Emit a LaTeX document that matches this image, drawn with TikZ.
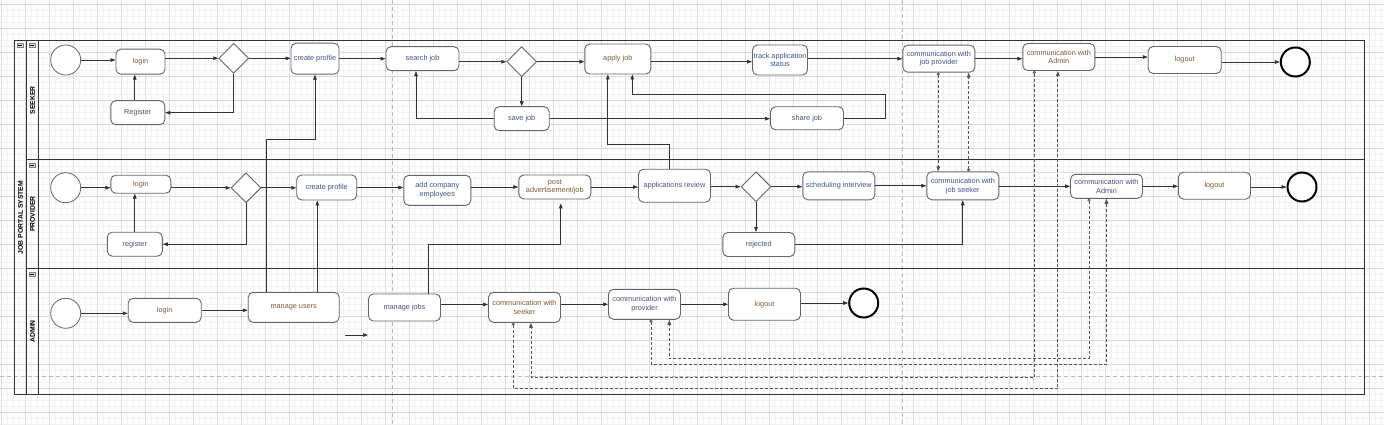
\documentclass[tikz,border=0pt]{standalone}
\usepackage{fontspec}
\setmainfont{Liberation Sans}
\usepackage{tikz}
\usetikzlibrary{shapes.geometric, arrows.meta, positioning}
\definecolor{lanecol}{HTML}{333333}
\definecolor{boxcol}{HTML}{666666}
\definecolor{msgcol}{HTML}{555555}
\definecolor{txtbrown}{HTML}{7A5A3A}
\definecolor{txtblue}{HTML}{3E5288}
\definecolor{txtpurple}{HTML}{584A80}
\definecolor{txtgray}{HTML}{50505C}
\tikzset{
	activity/.style={rectangle, rounded corners=5pt, draw=boxcol, fill=white, line width=0.9pt, align=center, inner sep=1pt, font=\fontsize{7.3}{8.7}\selectfont},
	decision/.style={diamond, aspect=1, minimum size=30pt, inner sep=0pt, draw=boxcol, fill=white, line width=0.9pt},
	initial/.style={circle, minimum size=30pt, inner sep=0pt, draw=boxcol, fill=white, line width=0.8pt},
	final/.style={circle, minimum size=29pt, inner sep=0pt, draw=black, fill=white, line width=2pt},
	arrow/.style={line width=0.7pt, draw=lanecol, -{Triangle[length=5pt,width=3.6pt]}},
	message/.style={line width=0.8pt, draw=msgcol, dash pattern=on 3pt off 2pt, {Circle[open,length=3pt,width=3pt,fill=white]}-{Triangle[length=5pt,width=3.6pt]}},
	lanelabel/.style={rotate=90, inner sep=0pt, font=\fontsize{6.8}{7}\selectfont\bfseries},
	lanerule/.style={line width=1pt, draw=lanecol},
	pagebreak/.style={draw=gray!55, line width=0.8pt, dash pattern=on 4pt off 3pt}
}

\begin{document}
\begin{tikzpicture}[x=1pt,y=-1pt]
	\useasboundingbox (0,0) rectangle (1384,425);
	
	% Canvas
	\draw [black!5, line width=0.4pt, step=6pt, shift={(1,4)}] (-1pt,-421pt) grid (1383pt,4pt);
	\draw [black!14, line width=0.5pt, step=24pt, shift={(1,4)}] (-1pt,-421pt) grid (1383pt,4pt);
	\draw [pagebreak] (392.7,0) -- (392.7,425);
	\draw [pagebreak] (902.7,0) -- (902.7,425);
	\draw [pagebreak] (0,376.7) -- (1384,376.7);
	
	% Pool and lanes
	\draw [lanerule] (14.3,40.7) rectangle (1364,394.3);
	\draw [lanerule] (26.7,40.7) -- (26.7,394.3);
	\draw [lanerule] (38.3,40.7) -- (38.3,394.3);
	\draw [lanerule] (26.7,160) -- (1364,160);
	\draw [lanerule] (26.7,268.3) -- (1364,268.3);
	\foreach \ix/\iy in {20/45.2, 32/45.2, 32/165, 32/274} {
		\draw [gray, fill=gray!25, line width=0.4pt] (\ix-2.7,\iy-2.2) rectangle (\ix+2.7,\iy+2.2);
		\draw [black, line width=0.5pt] (\ix-1.6,\iy) -- (\ix+1.6,\iy);
	}
	\node (poolTitle) [lanelabel] at (20.5,217.5) {JOB PORTAL SYSTEM};
	\node (laneSeeker) [lanelabel] at (32.5,100.3) {SEEKER};
	\node (laneProvider) [lanelabel] at (32.5,214.2) {PROVIDER};
	\node (laneAdmin) [lanelabel] at (32.5,331.3) {ADMIN};
	
	% Nodes - seeker
	\node (sStart) [initial] at (65.7,60) {};
	\node (sLogin) [activity, minimum width=49pt, minimum height=25pt, text=txtbrown] at (140.5,61.7) {login};
	\node (sDec) [decision] at (233.7,58.3) {};
	\node (sReg) [activity, minimum width=54pt, minimum height=24pt, text=txtgray] at (137.8,112.7) {Register};
	\node (sProf) [activity, minimum width=48pt, minimum height=31pt, text=txtblue] at (315,58.7) {create profile};
	\node (sSearch) [activity, minimum width=73pt, minimum height=24pt, text=txtblue] at (422.5,58.7) {search job};
	\node (sDec2) [decision] at (521.7,61.7) {};
	\node (sApply) [activity, minimum width=66pt, minimum height=30pt, text=txtbrown] at (617.8,59) {apply job};
	\node (sSave) [activity, minimum width=55pt, minimum height=24pt, text=txtblue] at (521.7,118.7) {save job};
	\node (sTrack) [activity, minimum width=55pt, minimum height=30pt, text=txtblue] at (780,60) {track application\\status};
	\node (sShare) [activity, minimum width=73pt, minimum height=23pt, text=txtblue] at (807,118.3) {share job};
	\node (sComm) [activity, minimum width=72pt, minimum height=27pt, text=txtblue] at (938.8,58.7) {communication with\\job provider};
	\node (sAdmin) [activity, minimum width=72pt, minimum height=27pt, text=txtbrown] at (1058.8,57) {communication with\\Admin};
	\node (sLogout) [activity, minimum width=73pt, minimum height=27pt, text=txtbrown] at (1184.7,60) {logout};
	\node (sEnd) [final] at (1295.3,62) {};
	
	% Nodes - provider
	\node (pStart) [initial] at (65.7,187.7) {};
	\node (pLogin) [activity, minimum width=60pt, minimum height=18pt, text=txtbrown] at (140.8,184.2) {login};
	\node (pDec) [decision] at (246,187.8) {};
	\node (pReg) [activity, minimum width=55pt, minimum height=24pt, text=txtpurple] at (134.8,244.2) {register};
	\node (pProf) [activity, minimum width=60pt, minimum height=25pt, text=txtblue] at (326.7,187.5) {create profile};
	\node (pAdd) [activity, minimum width=67pt, minimum height=30pt, text=txtblue] at (437.3,190.3) {add company\\employees};
	\node (pPost) [activity, minimum width=72pt, minimum height=24pt, text=txtbrown] at (554.8,187) {post\\advertisement/job};
	\node (pRev) [activity, minimum width=72pt, minimum height=33pt, text=txtpurple] at (674.5,185.7) {applications review};
	\node (pDec2) [decision] at (756,186.7) {};
	\node (pSched) [activity, minimum width=72pt, minimum height=28pt, text=txtblue] at (838.8,185.8) {scheduling interview};
	\node (pRej) [activity, minimum width=72pt, minimum height=24pt, text=txtblue] at (758.8,244.5) {rejected};
	\node (pComm) [activity, minimum width=72pt, minimum height=28pt, text=txtblue] at (962.8,185.8) {communication with\\job seeker};
	\node (pAdmin) [activity, minimum width=72pt, minimum height=24pt, text=txtpurple] at (1106.5,186.3) {communication with\\Admin};
	\node (pLogout) [activity, minimum width=72pt, minimum height=27pt, text=txtbrown] at (1214.5,185.7) {logout};
	\node (pEnd) [final] at (1302,187) {};
	
	% Nodes - admin
	\node (aStart) [initial] at (65.7,313.3) {};
	\node (aLogin) [activity, minimum width=73pt, minimum height=24pt, text=txtbrown] at (164.7,310.3) {login};
	\node (aUsers) [activity, minimum width=91pt, minimum height=30pt, text=txtbrown] at (293.7,307.3) {manage users};
	\node (aJobs) [activity, minimum width=72pt, minimum height=27pt, text=txtpurple] at (404.5,307.5) {manage jobs};
	\node (aSeek) [activity, minimum width=72pt, minimum height=30pt, text=txtbrown] at (524.5,307.3) {communication with\\seeker};
	\node (aProv) [activity, minimum width=72pt, minimum height=30pt, text=txtpurple] at (644.5,304.3) {communication with\\provider};
	\node (aLogout) [activity, minimum width=72pt, minimum height=32pt, text=txtbrown] at (764.5,304.2) {logout};
	\node (aEnd) [final] at (863.7,303) {};
	\coordinate (loose) at (345,335);
	\coordinate (looseEnd) at (368,335);
	
	% Arrows - seeker
	\draw [arrow] (sStart.east) -- (sStart.east -| sLogin.west);
	\draw [arrow] (sDec.west -| sLogin.east) -- (sDec.west);
	\draw [arrow] (sDec.east) -- (sDec.east -| sProf.west);
	\draw [arrow] (sDec.south) |- (sReg.east);
	\draw [arrow] ([xshift=-3pt]sReg.north) -- ([xshift=-3pt]sReg.north |- sLogin.south);
	\draw [arrow] (sProf.east) -- (sProf.east -| sSearch.west);
	\draw [arrow] (sDec2.west -| sSearch.east) -- (sDec2.west);
	\draw [arrow] (sDec2.east) -- (sDec2.east -| sApply.west);
	\draw [arrow] (sDec2.south) -- (sSave.north);
	\draw [arrow] (sSave.west) -| ([xshift=-6.5pt]sSearch.south);
	\draw [arrow] (sSave.east) -- (sSave.east -| sShare.west);
	\draw [arrow] (sShare.east) -- ++(41,0) |- ([xshift=14.5pt,yshift=-20pt]sApply.south) -- ([xshift=14.5pt]sApply.south);
	\draw [arrow] ([yshift=-2.7pt]sApply.east) -- ([yshift=-2.7pt]sApply.east -| sTrack.west);
	\draw [arrow] (sComm.west -| sTrack.east) -- (sComm.west);
	\draw [arrow] (sComm.east) -- (sComm.east -| sAdmin.west);
	\draw [arrow] (sAdmin.east) -- (sAdmin.east -| sLogout.west);
	\draw [arrow] (sEnd.west -| sLogout.east) -- (sEnd.west);
	
	% Arrows - provider
	\draw [arrow] (pStart.east) -- (pStart.east -| pLogin.west);
	\draw [arrow] (pDec.west -| pLogin.east) -- (pDec.west);
	\draw [arrow] (pDec.east) -- (pDec.east -| pProf.west);
	\draw [arrow] (pDec.south) |- (pReg.east);
	\draw [arrow] (pReg.north) -- (pReg.north |- pLogin.south);
	\draw [arrow] (pProf.east) -- (pProf.east -| pAdd.west);
	\draw [arrow] (pPost.west -| pAdd.east) -- (pPost.west);
	\draw [arrow] (pPost.east) -- (pPost.east -| pRev.west);
	\draw [arrow] (pDec2.west -| pRev.east) -- (pDec2.west);
	\draw [arrow] (pDec2.east) -- (pDec2.east -| pSched.west);
	\draw [arrow] (pDec2.south) -- (pDec2.south |- pRej.north);
	\draw [arrow] (pRej.east) -| (pComm.south);
	\draw [arrow] (pSched.east) -- (pSched.east -| pComm.west);
	\draw [arrow] (pAdmin.west -| pComm.east) -- (pAdmin.west);
	\draw [arrow] (pAdmin.east) -- (pAdmin.east -| pLogout.west);
	\draw [arrow] (pEnd.west -| pLogout.east) -- (pEnd.west);
	\draw [arrow] ([xshift=-5pt]pRev.north) |- ([xshift=-10pt,yshift=-70pt]sApply.south) -- ([xshift=-10pt]sApply.south);
	
	% Arrows - admin
	\draw [arrow] (aStart.east) -- (aStart.east -| aLogin.west);
	\draw [arrow] (aLogin.east) -- (aLogin.east -| aUsers.west);
	\draw [arrow] ([xshift=-27.7pt]aUsers.north) |- ([yshift=-65pt]sProf.south) -- (sProf.south);
	\draw [arrow] ([xshift=23.6pt]aUsers.north) -- ([xshift=23.6pt]aUsers.north |- pProf.south);
	\draw [arrow] ([xshift=24pt]aJobs.north) |- ([xshift=6pt,yshift=-45pt]pPost.south) -- ([xshift=6pt,yshift=-4pt]pPost.south);
	\draw [arrow] (loose) -- (looseEnd);
	\draw [arrow] ([yshift=3pt]aJobs.east) -- ([yshift=3pt]aJobs.east -| aSeek.west);
	\draw [arrow] (aProv.west -| aSeek.east) -- (aProv.west);
	\draw [arrow] (aProv.east) -- (aProv.east -| aLogout.west);
	\draw [arrow] (aEnd.west -| aLogout.east) -- (aEnd.west);
	
	% Messages
	\draw [message] ([xshift=-0.5pt]sComm.south) -- ([xshift=-0.5pt]sComm.south |- pComm.north);
	\draw [message] ([xshift=5.9pt]pComm.north) -- ([xshift=5.9pt]pComm.north |- sComm.south);
	\draw [message] ([xshift=-24.5pt]sAdmin.south) -- ++(0,306.2) -| ([xshift=6.5pt]aSeek.south);
	\draw [message] ([xshift=-11.2pt]aSeek.south) -- ++(0,66) -| ([xshift=-1pt]sAdmin.south);
	\draw [message] ([xshift=-17.5pt]pAdmin.south) -- ++(0,160) -| ([xshift=24.8pt]aProv.south);
	\draw [message] ([xshift=6.5pt]aProv.south) -- ++(0,44.7) -| (pAdmin.south);
	
\end{tikzpicture}
\end{document}
